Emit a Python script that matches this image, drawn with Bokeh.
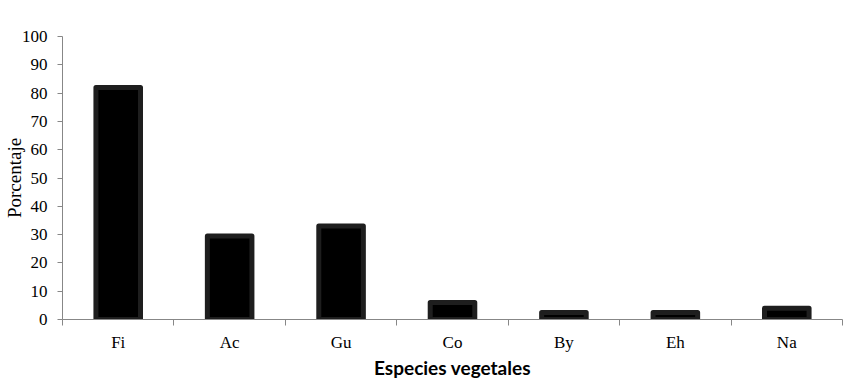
from bokeh.plotting import figure
from bokeh.models import Range1d, FixedTicker, ColumnDataSource
from bokeh.embed import file_html
from bokeh.resources import INLINE

categories = ["Fi", "Ac", "Gu", "Co", "By", "Eh", "Na"]
values = [82, 29.5, 33, 6, 2.5, 2.5, 4]
y_ticks = [0, 10, 20, 30, 40, 50, 60, 70, 80, 90, 100]

xpos = [i + 0.5 for i in range(len(categories))]
src = ColumnDataSource(dict(x=xpos, top=values, cat=categories))

SERIF = "Times New Roman"

p = figure(frame_width=780, frame_height=283, output_backend="svg", toolbar_location=None,
           x_range=Range1d(0, len(categories)), y_range=Range1d(0, 100),
           min_border_left=54, min_border_right=2, min_border_top=36, min_border_bottom=50)
p.outline_line_color = None
p.xgrid.visible = False
p.ygrid.visible = False
p.background_fill_color = "white"

p.vbar(x="x", top="top", bottom=0, width=0.4, source=src, fill_color="black",
       line_color="#1e1e1e", line_width=5, line_join="round")

axis_color = "#878787"
xa = p.xaxis[0]
xa.ticker = FixedTicker(ticks=xpos, minor_ticks=list(range(len(categories) + 1)))
xa.major_label_overrides = {x: c for x, c in zip(xpos, categories)}
xa.major_tick_line_color = None
xa.minor_tick_line_color = axis_color
xa.minor_tick_in = 0
xa.minor_tick_out = 6
xa.axis_line_color = axis_color
xa.major_label_text_font = SERIF
xa.major_label_text_font_size = "17px"
xa.major_label_text_color = "black"
xa.major_label_standoff = 7
xa.axis_label = "Especies vegetales"
xa.axis_label_text_font = "Lato"
xa.axis_label_text_font_style = "bold"
xa.axis_label_text_font_size = "19px"
xa.axis_label_text_color = "black"
xa.axis_label_standoff = 1

ya = p.yaxis[0]
ya.ticker = FixedTicker(ticks=y_ticks, minor_ticks=[])
ya.axis_line_color = axis_color
ya.major_tick_line_color = axis_color
ya.major_tick_in = 0
ya.major_tick_out = 5
ya.minor_tick_line_color = None
ya.major_label_text_font = SERIF
ya.major_label_text_font_size = "17px"
ya.major_label_text_color = "black"
ya.major_label_standoff = 10
ya.axis_label = "Porcentaje"
ya.axis_label_text_font = SERIF
ya.axis_label_text_font_style = "normal"
ya.axis_label_text_font_size = "19px"
ya.axis_label_text_color = "black"
ya.axis_label_standoff = -6

open("out.html", "w").write(file_html(p, INLINE))
